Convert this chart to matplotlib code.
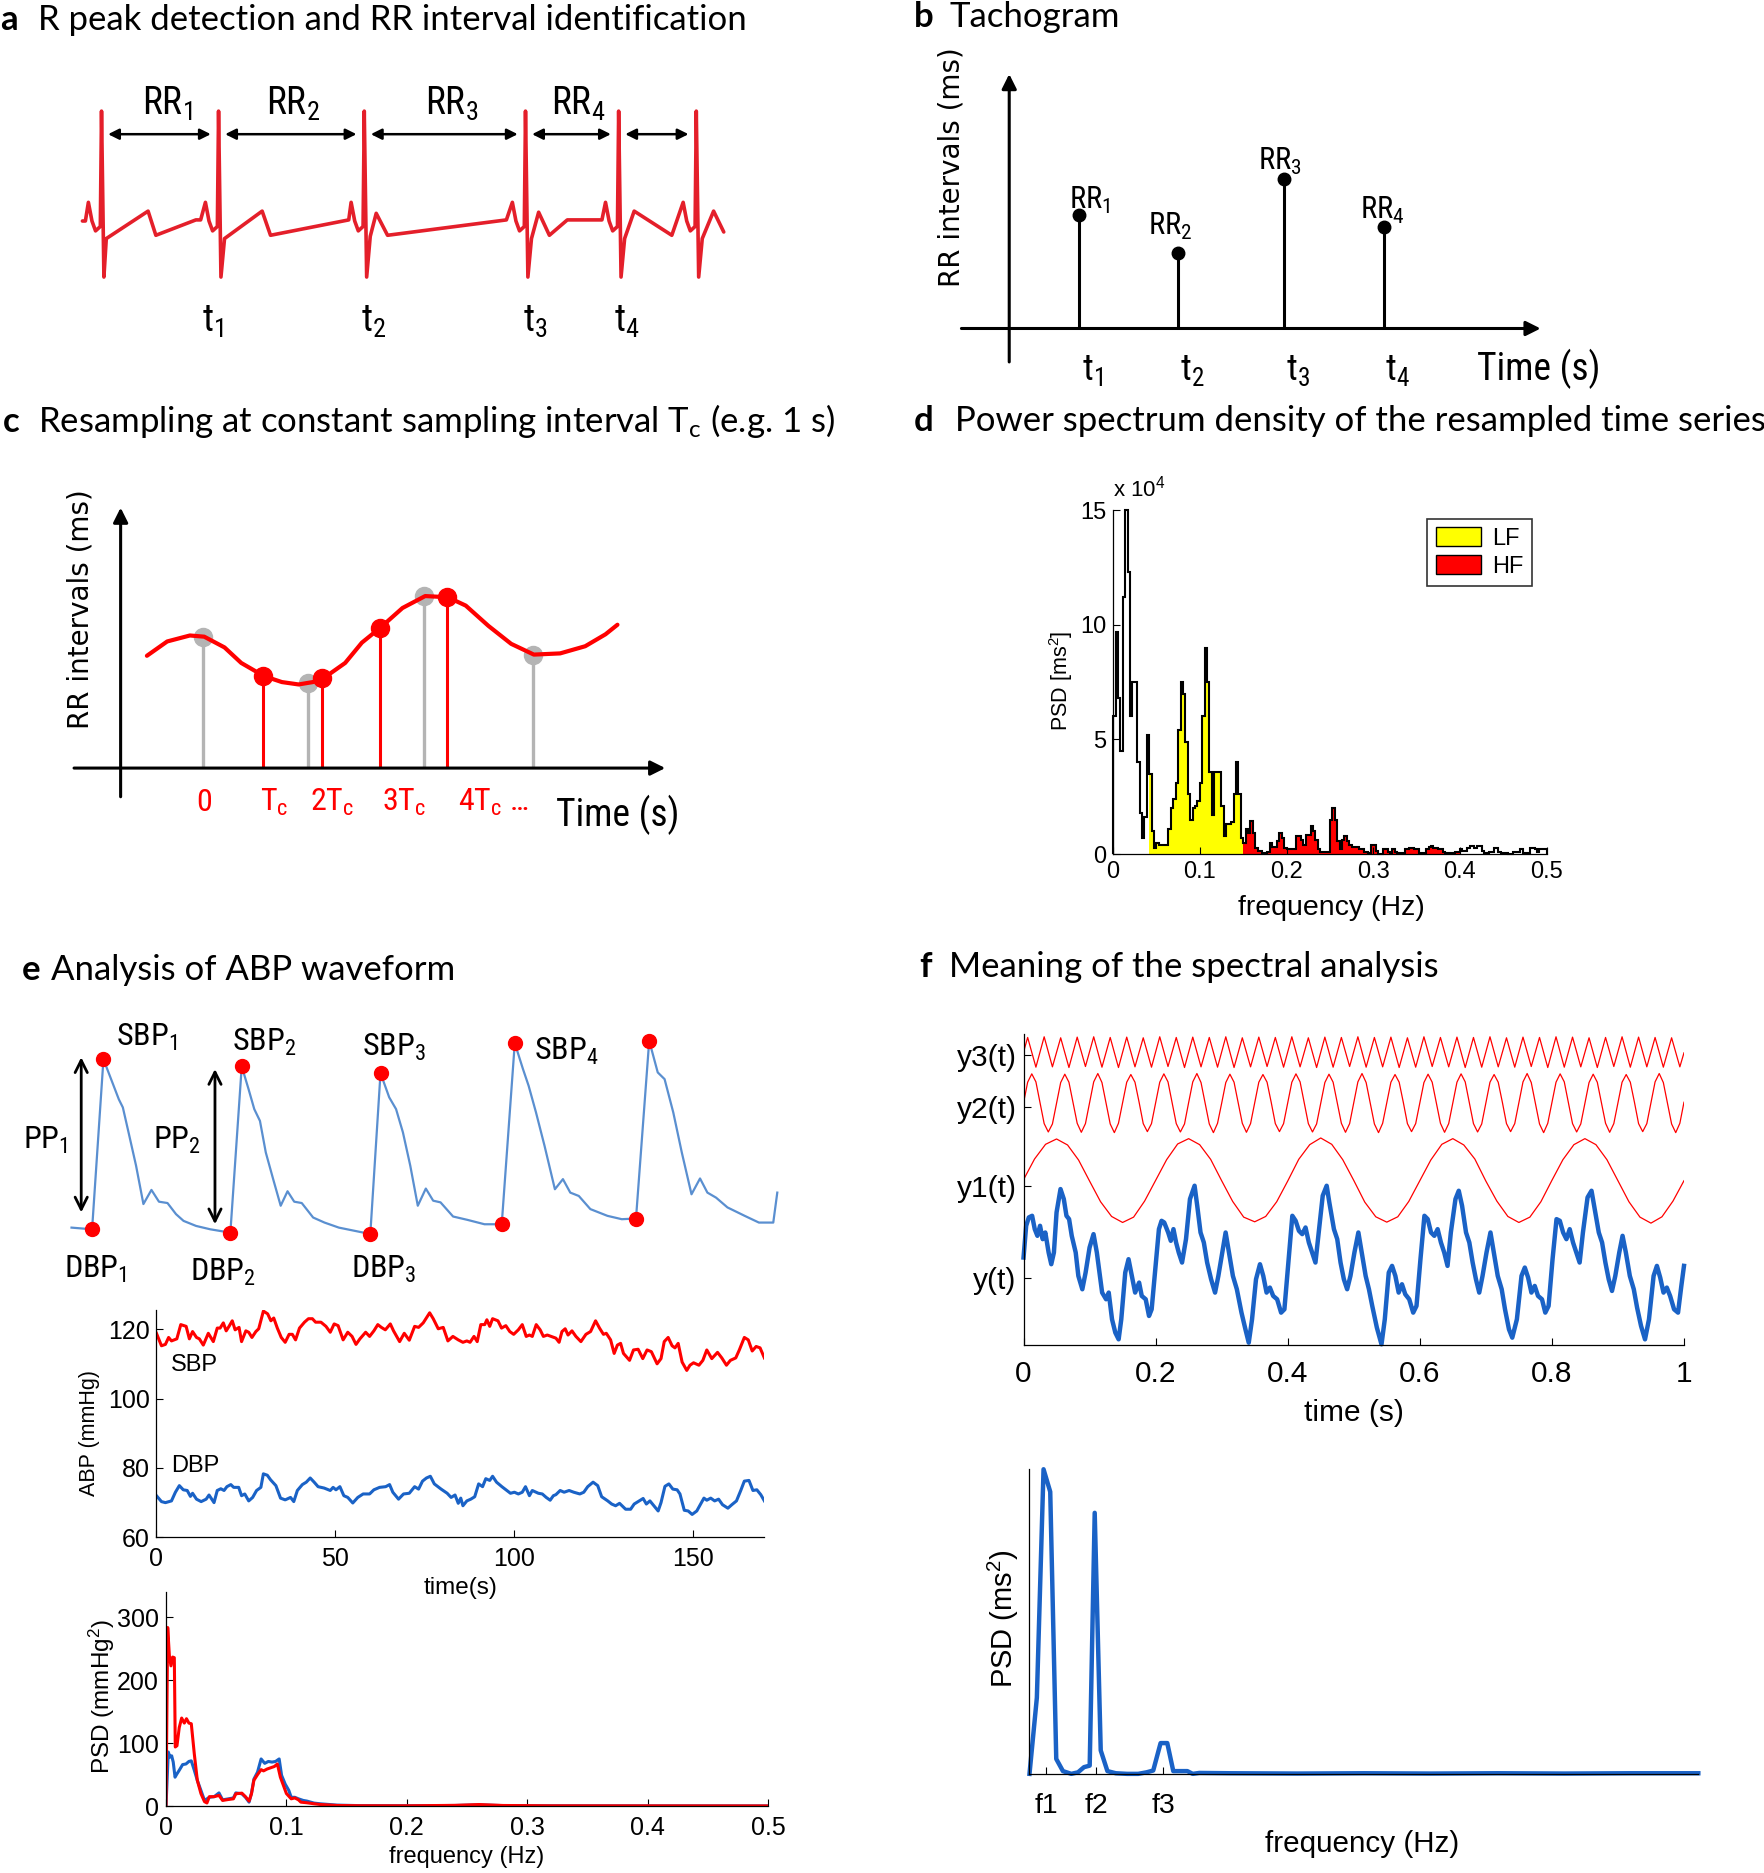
import numpy as np
import matplotlib
matplotlib.use('Agg')
import matplotlib.pyplot as plt
from matplotlib import font_manager as fm
from matplotlib.patches import Patch

# ======================= DATA =======================
# (a) ECG schematic (time s, amplitude mV)
r_peak_times = [0.0, 0.98, 2.20, 3.55, 4.33, 4.98]
ecg_t = [-0.16, -0.135, -0.11, -0.08, -0.05, -0.01, 0.0, 0.02, 0.04, 0.39, 0.455, 0.79, 0.83,
         0.87, 0.90, 0.93, 0.97, 0.98, 1.00, 1.03, 1.345, 1.415, 2.07,
         2.09, 2.12, 2.15, 2.19, 2.20, 2.22, 2.25, 2.30, 2.395, 3.39,
         3.44, 3.47, 3.50, 3.54, 3.55, 3.57, 3.60, 3.66, 3.75, 3.90, 4.19,
         4.22, 4.25, 4.28, 4.32, 4.33, 4.35, 4.38, 4.46, 4.775,
         4.87, 4.90, 4.93, 4.97, 4.98, 5.00, 5.03, 5.125, 5.21]
ecg_mv = [0.0, 0.0, 0.17, 0.0, -0.09, -0.05, 1.0, -0.51, -0.16, 0.09, -0.13, 0.01, 0.01,
          0.17, 0.0, -0.09, -0.05, 1.0, -0.51, -0.16, 0.09, -0.13, 0.01,
          0.17, 0.0, -0.09, -0.05, 1.0, -0.51, -0.14, 0.07, -0.13, 0.01,
          0.17, 0.0, -0.09, -0.05, 1.0, -0.51, -0.16, 0.08, -0.13, 0.01, 0.01,
          0.17, 0.0, -0.09, -0.05, 1.0, -0.51, -0.16, 0.09, -0.13,
          0.17, 0.0, -0.09, -0.05, 1.0, -0.51, -0.16, 0.09, -0.10]
rr_labels = ['RR$_1$', 'RR$_2$', 'RR$_3$', 'RR$_4$']
rr_label_t = [0.55, 1.60, 2.93, 3.99]
t_labels = ['t$_1$', 't$_2$', 't$_3$', 't$_4$']
t_label_a = [0.93, 2.28, 3.63, 4.40]

# (b) Tachogram
tach_t = [0.68, 1.65, 2.68, 3.65]
tach_rr = [760, 505, 1000, 680]
tach_lab_t = [0.78, 1.57, 2.64, 3.64]
tach_lab_rr = [800, 624, 1064, 736]

# (c) Resampling
c_curve_t = [-0.94, -0.60, -0.22, 0.02, 0.36, 0.64, 1.02, 1.32, 1.60, 1.84, 2.04, 2.38, 2.66,
             2.98, 3.34, 3.72, 4.10, 4.40, 4.78, 5.16, 5.54, 5.98, 6.40, 6.74, 6.94]
c_curve_v = [470, 530, 555, 550, 505, 440, 385, 360, 350, 360, 380, 440, 525,
             590, 670, 720, 715, 680, 595, 520, 475, 480, 510, 560, 600]
orig_t = [0.0, 1.76, 3.70, 5.52]
orig_v = [550, 355, 720, 475]
resamp_t = [1.0, 2.0, 2.96, 4.08]
resamp_v = [385, 375, 585, 715]
c_tick_labels = ['0', 'T$_c$', '2T$_c$', '3T$_c$', '4T$_c$ \u2026']
c_tick_t = [0.02, 1.2, 2.16, 3.36, 4.86]

# (d) PSD of resampled RR series (x 10^4 ms^2), 180 bins over 0-0.5 Hz
psd_d = [6.0, 9.7, 6.8, 4.5, 11.2, 15.0, 12.3, 6.0, 7.5, 7.5, 4.0, 1.8, 0.7, 1.6, 5.2,
         3.5, 1.0, 0.25, 0.5, 0.4, 0.4, 0.4, 0.4, 1.1, 2.0, 2.4, 3.1, 5.4, 7.5, 7.0, 4.9, 2.6,
         1.5, 2.0, 2.1, 2.3, 3.1, 6.0, 9.0, 7.5, 3.6, 1.7, 3.6, 3.6, 3.6, 2.1, 0.8, 1.3, 1.3,
         1.4, 2.6, 4.0, 2.6, 0.7,
         0.5, 1.1, 0.9, 1.45, 0.9, 0.26, 0.15, 0.15, 0.05, 0.05, 0.1, 0.5, 0.33, 0.33, 0.55,
         0.9, 0.7, 0.26, 0.2, 0.2, 0.2, 0.2, 0.8, 0.8, 0.6, 0.4, 0.84, 0.84, 1.23, 1.0, 0.6,
         0.2, 0.1, 0.1, 0.1, 0.1, 1.5, 2.0, 1.5, 0.55, 0.2, 0.6, 0.77, 0.55, 0.4, 0.3, 0.3,
         0.3, 0.2, 0.2, 0.1, 0.1, 0.05, 0.4, 0.4, 0.15, 0.0, 0.0, 0.2, 0.2, 0.1, 0.05, 0.2,
         0.1, 0.05, 0.05, 0.05, 0.2, 0.2, 0.26, 0.26, 0.2, 0.2, 0.05, 0.05, 0.05, 0.2, 0.3,
         0.36, 0.26, 0.26, 0.2, 0.2, 0.07, 0.05, 0.05, 0.05, 0.05, 0.1, 0.1,
         0.2, 0.15, 0.15, 0.26, 0.36, 0.36, 0.26, 0.36, 0.36, 0.15, 0.05, 0.05, 0.07, 0.07,
         0.26, 0.26, 0.1, 0.05, 0.05, 0.05, 0.02, 0.02, 0.1, 0.1, 0.1, 0.2, 0.05, 0.05, 0.05,
         0.26, 0.26, 0.2, 0.07, 0.2, 0.2, 0.2]
lf_bins = (15, 54)
hf_bins = (54, 144)

# (e) ABP waveform (s, mmHg)
abp_t = [0.013, 0.136, 0.204, 0.252, 0.296, 0.320, 0.354, 0.399, 0.443, 0.491, 0.536, 0.587,
         0.638, 0.683, 0.758, 0.843, 0.963, 1.031, 1.072, 1.106, 1.140, 1.175, 1.219, 1.264,
         1.305, 1.345, 1.390, 1.458, 1.526, 1.612, 1.800, 1.861, 1.913, 1.954, 1.995, 2.039,
         2.084, 2.132, 2.176, 2.220, 2.295, 2.381, 2.483, 2.586, 2.664, 2.713, 2.747, 2.791,
         2.842, 2.904, 2.952, 2.996, 3.047, 3.116, 3.218, 3.304, 3.389, 3.468, 3.519, 3.560,
         3.612, 3.663, 3.721, 3.772, 3.816, 3.868, 3.936, 4.039, 4.124, 4.210, 4.234]
abp_p = [69.4, 68.9, 119.4, 113.2, 107.5, 105.1, 97.7, 87.8, 76.4, 80.6, 77.1, 76.7,
         73.4, 71.4, 69.9, 68.9, 67.9, 117.3, 110.5, 104.6, 101.1, 91.7, 83.8, 75.9,
         80.2, 77.1, 76.7, 72.4, 70.9, 69.4, 67.5, 115.3, 108.1, 104.6, 97.7, 87.8,
         75.9, 81.0, 77.4, 76.9, 72.7, 71.7, 70.4, 70.4, 124.2, 116.5, 111.5, 103.6,
         93.7, 80.8, 83.8, 79.8, 78.8, 74.9, 72.9, 71.9, 72.1, 124.9, 115.5, 113.5,
         103.6, 91.7, 79.3, 84.0, 79.8, 78.3, 75.4, 72.9, 70.9, 70.9, 79.8]
sbp_pk_t = [0.204, 1.031, 1.861, 2.664, 3.468]
sbp_pk = [119.4, 117.3, 115.3, 124.2, 124.9]
dbp_pk_t = [0.136, 0.963, 1.800, 2.586, 3.389]
dbp_pk = [68.9, 67.9, 67.5, 70.4, 72.1]

# (e) beat-to-beat SBP / DBP series
sbp_t = [0, 1.4, 2.5, 3.4, 4.2, 5.7, 6.8, 8.3, 9.2, 10.1, 11.2, 12.0, 13.1, 14.5, 15.9, 17.0,
         17.8, 18.7, 19.5, 20.3, 21.2, 22.0, 23.1, 23.8, 25.0, 25.8, 26.7, 27.8, 28.6, 29.9,
         31.1, 32.0, 32.8, 33.8, 34.9, 36.0, 37.1, 38.0, 38.9, 40.0, 41.4, 42.5, 43.6, 44.5,
         46.0, 47.4, 48.6, 49.7, 50.8, 52.2, 53.5, 54.7, 55.8, 56.9, 58.5, 59.6, 60.8, 61.9,
         62.9, 64.0, 65.4, 66.3, 68.0, 69.3, 70.7, 72.2, 73.3, 74.6, 76.4, 77.4, 78.8, 80.2,
         81.5, 82.9, 84.4, 85.7, 86.8, 87.7, 88.8, 89.7, 90.7, 91.8, 92.4, 93.2, 94.0, 95.5,
         96.5, 97.7, 98.8, 99.9, 101.2, 102.3, 103.4, 104.3, 105.1, 106.2, 107.3, 108.2,
         109.3, 110.4, 111.7, 112.6, 113.4, 114.3, 115.1, 116.2, 117.3, 118.7, 120.1, 121.4,
         122.8, 123.9, 125.0, 125.8, 127.0, 128.0, 128.9, 129.8, 130.6, 132.3, 133.4, 134.7,
         136.0, 137.2, 138.4, 140.0, 141.1, 142.0, 143.1, 144.2, 145.0, 145.9, 147.0, 148.3,
         149.2, 150.2, 151.7, 152.8, 153.9, 155.3, 156.9, 158.1, 159.4, 160.5, 162.0, 163.0,
         164.4, 165.5, 166.6, 167.7, 168.8, 170.0]
sbp_v = [118.8, 115.2, 115.6, 117.6, 116.6, 117.2, 121.3, 120.8, 117.2, 119.3, 117.6, 117.2,
         115.4, 118.8, 116.4, 120.3, 120.3, 121.8, 119.5, 120.8, 122.4, 119.8, 120.5, 116.4,
         119.5, 119.1, 117.6, 119.3, 120.1, 125.2, 124.4, 122.4, 123.2, 120.3, 117.6, 116.2,
         118.5, 118.5, 116.9, 120.3, 122.0, 123.0, 123.0, 122.0, 122.0, 120.8, 119.1, 121.5,
         121.0, 116.9, 119.1, 117.9, 115.6, 117.2, 119.1, 117.9, 119.5, 121.3, 120.5, 119.8,
         121.5, 119.5, 116.4, 118.8, 116.8, 120.8, 120.5, 121.8, 124.7, 123.0, 120.1, 120.5,
         116.6, 117.9, 116.9, 116.2, 116.6, 116.2, 117.9, 116.4, 121.3, 121.3, 122.7, 120.8,
         123.0, 122.4, 120.3, 121.0, 119.3, 118.5, 119.8, 121.3, 117.9, 118.3, 117.9, 121.3,
         119.8, 117.9, 118.3, 117.9, 117.4, 116.2, 119.3, 120.1, 118.3, 119.5, 117.9, 116.4,
         118.5, 119.3, 122.4, 120.3, 118.5, 118.8, 116.9, 113.0, 115.4, 115.9, 113.0, 111.0,
         114.0, 114.2, 111.5, 114.0, 113.5, 110.0, 111.5, 116.4, 117.6, 115.2, 114.6, 115.9,
         110.5, 108.1, 109.6, 110.3, 109.6, 111.0, 114.0, 111.5, 113.3, 111.7, 109.6, 111.0,
         111.7, 114.0, 117.6, 116.9, 113.7, 115.0, 114.6, 111.7]
dbp_t = [0, 1.4, 2.5, 4.2, 5.3, 6.4, 7.5, 8.6, 9.5, 10.1, 11.2, 12.5, 13.9, 14.7, 16.1, 17.0,
         18.0, 18.9, 19.7, 20.8, 21.6, 23.0, 23.8, 24.7, 25.8, 26.9, 28.0, 29.2, 29.9, 31.0,
         31.9, 33.4, 34.7, 36.0, 37.5, 38.4, 39.4, 40.8, 41.9, 43.0, 44.1, 45.2, 46.9, 48.6,
         49.4, 50.2, 51.3, 52.4, 53.5, 54.9, 56.3, 57.8, 59.6, 60.8, 62.4, 64.1, 65.2, 66.1,
         67.7, 69.1, 70.7, 72.2, 73.3, 74.4, 75.5, 76.6, 77.7, 79.6, 81.3, 82.4, 83.5, 84.4,
         85.1, 85.7, 86.8, 87.9, 89.0, 90.1, 91.2, 92.1, 93.2, 94.0, 95.1, 96.6, 98.0, 99.0,
         100.1, 101.2, 102.3, 103.2, 104.3, 105.1, 106.8, 107.9, 109.0, 110.1, 111.0, 111.7,
         112.9, 114.0, 115.4, 116.7, 118.4, 119.5, 120.6, 122.1, 123.4, 124.5, 126.2, 127.3,
         128.4, 129.5, 131.2, 132.6, 133.6, 135.0, 136.1, 137.0, 138.0, 139.5, 140.3, 141.1,
         142.2, 143.3, 144.4, 145.6, 146.4, 147.6, 148.7, 149.8, 151.1, 152.2, 153.1, 153.9,
         155.0, 156.1, 157.2, 158.3, 159.8, 160.9, 162.2, 163.4, 164.4, 165.7, 166.8, 167.9,
         169.0, 170.0]
dbp_v = [72, 70.3, 70, 70.5, 73, 74.9, 73.7, 73.5, 71.8, 72.7, 71, 70.3, 71, 72.2, 70, 73.5,
         74, 73.5, 74.6, 75.2, 74.4, 74.4, 72, 72.5, 70.5, 71.5, 73.5, 74.4, 78.3, 77.9,
         76.6, 74.9, 71.3, 70.8, 71.5, 70.3, 73.5, 75.2, 75.9, 77.1, 75.9, 74.6, 74.2, 73.5,
         74.4, 73.7, 74.6, 72, 71.5, 69.9, 71.5, 72.5, 72.5, 73.7, 74.4, 74.6, 75.2, 73,
         71, 72.5, 72.7, 74.6, 73.9, 76.2, 77.1, 77.6, 75.4, 73.9, 72.7, 71.5, 72.2, 69.8,
         71.3, 69.1, 70.5, 71, 71.7, 75.4, 74.6, 76.9, 76.4, 77.6, 75.9, 74.6, 73.5, 72.7,
         73, 72.5, 73, 74.6, 72, 73.5, 72.7, 72.5, 71.5, 70.7, 72, 72.3, 73.5, 73,
         73.5, 73, 72.5, 73, 74.6, 75.9, 74.9, 71.7, 70.5, 69.6, 69.1, 69.8, 68.1, 68.1,
         69.6, 70.5, 71.2, 69.6, 70.5, 68.6, 67.6, 70, 74.7, 75.4, 73.9, 73.7, 72.5, 67.8,
         67.6, 66.6, 67.6, 69.6, 71.3, 70.7, 71.3, 70.5, 71, 69.4, 68.4, 69.4, 70.5, 73.5,
         76.2, 76.4, 73.5, 73.7, 72.3, 70.5]

# (e) PSD of SBP (red) and DBP (blue)
psd_sbp_f = [0, 0.0014, 0.0028, 0.0041, 0.0055, 0.0069, 0.0077, 0.0091, 0.011, 0.013, 0.0152,
             0.017, 0.019, 0.021, 0.0235, 0.026, 0.029, 0.032, 0.034, 0.036, 0.040, 0.044,
             0.047, 0.052, 0.056, 0.058, 0.063, 0.066, 0.069, 0.071, 0.073, 0.076, 0.079,
             0.081, 0.084, 0.087, 0.090, 0.0925, 0.095, 0.0975, 0.100, 0.104, 0.107, 0.110,
             0.112, 0.117, 0.123, 0.128, 0.142, 0.16, 0.2, 0.24, 0.26, 0.28, 0.32, 0.4, 0.5]
psd_sbp = [0, 284, 239, 223, 237, 236, 94, 96, 125, 140, 132, 139, 132, 131, 83, 41, 20, 7, 5,
           15, 15, 17, 9, 10.6, 11.6, 19.6, 20.6, 15, 8, 19.6, 41, 50, 58, 56, 59, 61, 63, 67,
           46, 33, 20, 11.6, 13, 10, 6.3, 5.3, 3.7, 2.6, 1.0, 0.6, 0.5, 1.2, 2.5, 1.0, 0.5,
           0.4, 0.3]
psd_dbp_f = [0, 0.0019, 0.0033, 0.0047, 0.006, 0.0075, 0.009, 0.011, 0.0138, 0.0166, 0.019,
             0.021, 0.0235, 0.026, 0.029, 0.032, 0.036, 0.040, 0.044, 0.047, 0.052, 0.056,
             0.058, 0.063, 0.066, 0.069, 0.071, 0.073, 0.076, 0.079, 0.082, 0.085, 0.088,
             0.091, 0.094, 0.096, 0.099, 0.102, 0.104, 0.107, 0.110, 0.114, 0.117, 0.123,
             0.128, 0.142, 0.16, 0.2, 0.24, 0.26, 0.28, 0.32, 0.4, 0.5]
psd_dbp = [0, 86, 78, 80, 70, 46, 51, 57, 66, 67, 71, 72, 57, 41, 25, 9, 14, 15, 21, 10, 11.6,
           13, 21, 19.6, 14, 6.3, 20.6, 43, 54, 75, 68, 71, 70, 71, 75, 49, 35, 25, 14, 14,
           11.6, 9, 8, 4.8, 3.7, 1.6, 0.8, 0.6, 1.0, 2.0, 0.8, 0.5, 0.4, 0.3]

# (f) component signals (arbitrary vertical units)
y1_vals = [4.90, 5.52, 5.96, 6.12, 5.94, 5.49, 4.86, 4.24, 3.80, 3.62, 3.78, 4.26,
           4.88, 5.50, 5.97, 6.13, 5.95, 5.51, 4.87, 4.25, 3.78, 3.64, 3.80, 4.24,
           4.86, 5.51, 5.95, 6.15, 5.96, 5.50, 4.88, 4.23, 3.79, 3.63, 3.79, 4.25,
           4.87, 5.49, 5.96, 6.13, 5.94, 5.52, 4.86, 4.26, 3.80, 3.62, 3.78, 4.24,
           4.88, 5.50, 5.95, 6.13, 5.95, 5.50, 4.87, 4.24, 3.78, 3.60, 3.79, 4.26, 4.87]
y2_vals = [7.20, 7.82, 8.07, 7.83, 7.21, 6.58, 6.33, 6.57,
           7.19, 7.81, 8.06, 7.82, 7.20, 6.59, 6.32, 6.58,
           7.21, 7.83, 8.08, 7.81, 7.19, 6.57, 6.31, 6.59,
           7.20, 7.82, 8.05, 7.82, 7.22, 6.58, 6.34, 6.58,
           7.20, 7.82, 8.07, 7.83, 7.21, 6.58, 6.33, 6.57,
           7.21, 7.83, 8.08, 7.81, 7.19, 6.57, 6.31, 6.59,
           7.19, 7.81, 8.06, 7.82, 7.20, 6.59, 6.32, 6.58,
           7.20, 7.82, 8.05, 7.82, 7.22, 6.58, 6.34, 6.58,
           7.20, 7.82, 8.07, 7.83, 7.21, 6.58, 6.33, 6.57,
           7.19, 7.81, 8.06, 7.82, 7.20, 6.59, 6.32, 6.58,
           7.21, 7.83, 8.08, 7.81, 7.19, 6.57, 6.31, 6.59,
           7.20, 7.82, 8.05, 7.82, 7.22, 6.58, 6.34, 6.58,
           7.19, 7.81, 8.06, 7.82, 7.20, 6.59, 6.32, 6.58,
           7.20, 7.82, 8.07, 7.83, 7.21, 6.58, 6.33, 6.57,
           7.20, 7.82, 8.05, 7.82, 7.22, 6.58, 6.34, 6.58,
           7.21, 7.83, 8.08, 7.81, 7.19, 6.57, 6.31, 6.59,
           7.20, 7.82, 8.07, 7.83, 7.21, 6.58, 6.33, 6.57,
           7.19, 7.81, 8.06, 7.82, 7.20, 6.59, 6.32, 6.58,
           7.20, 7.82, 8.05, 7.82, 7.22, 6.58, 6.34, 6.58,
           7.21, 7.83, 8.08, 7.81, 7.19, 6.57, 6.31, 6.59,
           7.22]
y3_vals = [8.72,
           9.16, 8.27, 9.18, 8.28, 9.15, 8.26, 9.17, 8.29, 9.18, 8.27, 9.16, 8.26, 9.17, 8.28,
           9.15, 8.27, 9.18, 8.29, 9.16, 8.26, 9.17, 8.28, 9.16, 8.27, 9.18, 8.26, 9.15, 8.28,
           9.17, 8.29, 9.16, 8.27, 9.18, 8.28, 9.15, 8.26, 9.17, 8.27, 9.16, 8.29, 9.18, 8.27,
           9.16, 8.28, 9.17, 8.26, 9.15, 8.27, 9.18, 8.29, 9.16, 8.28, 9.17, 8.26, 9.16, 8.27,
           9.18, 8.28, 9.15, 8.27, 9.17, 8.29, 9.16, 8.26, 9.18, 8.27, 9.17, 8.28, 9.15, 8.26,
           9.16, 8.29, 9.18, 8.27, 9.17, 8.28, 9.16, 8.27, 9.15, 8.28,
           8.70]
y_t = [0.000, .004, .008, .013, .017, .021, .025, .029, .033, .038, .042, .046, .050, .056, .061,
       .065, .069, .073, .079, .083, .089, .094, .100, .106, .111, .115, .119, .125, .129, .134,
       .139, .144, .148, .154, .159, .164, .169, .175, .179, .185, .190, .194, .200, .205,
       .209, .213, .219, .223, .227, .231, .235, .240, .246, .252, .259, .263, .268, .273, .278,
       .284, .290, .295, .301, .306, .311, .317, .323, .330, .336, .341, .346, .352, .358, .363,
       .368, .373, .378, .384, .390, .395, .401,
       .407, .412, .417, .422, .427, .432, .437, .442, .447, .453, .459, .463, .470, .475, .480,
       .485, .490, .495, .501, .507, .512, .518, .523, .528, .535, .542, .547, .553, .558, .563,
       .568, .573, .578, .584, .590, .595, .601,
       .607, .612, .617, .622, .627, .632, .637, .642, .647, .654, .659, .664, .670, .675, .680,
       .685, .690, .695, .701, .707, .712, .718, .724, .729, .735, .740, .747, .754, .759, .764,
       .769, .774, .779, .785, .790, .795, .801,
       .807, .812, .817, .822, .827, .832, .837, .842, .847, .854, .860, .864, .871, .876, .881,
       .886, .891, .896, .902, .907, .912, .918, .924, .929, .935, .941, .947, .954, .959, .964,
       .969, .974, .979, .985, .991, .996, 1.0]
y_v = [2.57, 3.52, 3.77, 3.82, 3.42, 3.22, 3.52, 3.12, 3.32, 2.72, 2.37, 2.72, 3.92, 4.62, 4.32,
       3.82, 3.72, 3.22, 2.72, 2.02, 1.62, 2.12, 2.87, 3.27, 2.72, 2.12, 1.52, 1.32, 1.52, 0.72,
       0.32, 0.12, 0.72, 2.12, 2.52, 2.02, 1.52, 1.82, 1.42, 1.32, 0.82, 1.02, 2.32, 3.42,
       3.67, 3.62, 3.32, 3.07, 3.42, 3.02, 2.72, 2.42, 3.12, 4.32, 4.72, 4.12, 3.32, 3.02, 2.42,
       1.92, 1.52, 2.02, 2.72, 3.32, 2.72, 2.02, 1.62, 0.92, 0.42, 0.02, 0.72, 1.92, 2.37, 2.02,
       1.52, 1.67, 1.42, 1.32, 0.92, 1.02, 2.42,
       3.82, 3.67, 3.37, 3.27, 3.47, 3.02, 2.72, 2.42, 3.32, 4.42, 4.72, 4.22, 3.42, 3.12, 2.42,
       1.92, 1.62, 2.02, 2.72, 3.32, 2.72, 2.02, 1.62, 1.12, 0.47, -0.03, 0.72, 2.12, 2.32, 2.02,
       1.52, 1.77, 1.47, 1.32, 0.92, 1.12, 2.52,
       3.82, 3.72, 3.32, 3.22, 3.42, 3.02, 2.72, 2.32, 3.32, 4.32, 4.57, 4.12, 3.32, 3.02, 2.42,
       1.92, 1.52, 2.02, 2.72, 3.32, 2.72, 2.02, 1.62, 1.02, 0.42, 0.17, 0.72, 2.02, 2.27, 1.97,
       1.52, 1.72, 1.42, 1.32, 0.92, 1.12, 2.52,
       3.72, 3.67, 3.32, 3.12, 3.42, 3.02, 2.72, 2.42, 3.32, 4.37, 4.57, 4.12, 3.32, 3.02, 2.42,
       1.92, 1.57, 2.02, 2.72, 3.22, 2.72, 2.02, 1.62, 1.07, 0.52, 0.12, 0.72, 2.02, 2.32, 1.97,
       1.52, 1.67, 1.42, 1.02, 0.92, 1.72, 2.32]
f_ytick_pos = [1.97, 4.72, 7.07, 8.62]
f_ytick_lab = ['y(t)', 'y1(t)', 'y2(t)', 'y3(t)']

# (f) PSD of y(t)
fpsd_f = [0, 2.2, 4.2, 6.2, 8, 10, 12.5, 14.5, 16.3, 18, 19.5, 21.3, 23.3, 25.8, 29.2, 32.5, 35,
          37, 39.2, 41.2, 43, 45, 47.2, 48.8, 50.8, 60, 80, 100, 120, 140, 160, 180, 200]
fpsd_v = [0, 0.25, 1.0, 0.926, 0.049, 0.009, 0.0, 0.005, 0.022, 0.027, 0.857, 0.077, 0.009,
          0.002, 0.0, 0.0, 0.005, 0.011, 0.101, 0.101, 0.009, 0.009, 0.009, 0.0, 0.003, 0.002,
          0.001, 0.002, 0.001, 0.002, 0.001, 0.002, 0.002]
f_peaks = [5, 20, 40]
f_peak_labels = ['f1', 'f2', 'f3']

# ======================= STYLE =======================
names = {f.name for f in fm.fontManager.ttflist}
def pick(*c):
    for n in c:
        if n in names:
            return n
    return 'DejaVu Sans'
NARROW = pick('Liberation Sans Narrow', 'Roboto Condensed', 'Liberation Sans')
HELV = pick('Liberation Sans', 'Arial', 'DejaVu Sans')
TITLE = pick('Lato', 'Open Sans', 'DejaVu Sans')
WIDE = 'DejaVu Sans'
plt.rcParams['font.family'] = [HELV, 'DejaVu Sans']
plt.rcParams['mathtext.default'] = 'regular'

RED_A = '#e41f2a'
RED = '#ff0000'
BLUE = '#1a62c6'
BLUE_W = '#5a8fd0'
GRAY = '#b4b4b4'

W, H = 1477.0, 1568.0
fig = plt.figure(figsize=(17.64, 18.73), dpi=100)

def R(x0, y0, x1, y1):
    return [x0 / W, 1 - y1 / H, (x1 - x0) / W, (y1 - y0) / H]

def new_ax(x0, y0, x1, y1):
    a = fig.add_axes(R(x0, y0, x1, y1))
    a.patch.set_alpha(0)
    return a

def ftext(x, y, s, **kw):
    fig.text(x / W, 1 - y / H, s, **kw)

def title(lx, tx, y, letter, text):
    ftext(lx, y, letter, fontsize=25, family=TITLE, fontweight='bold', va='baseline', ha='left')
    ftext(tx, y, text, fontsize=25, family=TITLE, va='baseline', ha='left')

def matlab(ax, fs):
    for s in ['top', 'right']:
        ax.spines[s].set_visible(False)
    for s in ['left', 'bottom']:
        ax.spines[s].set_linewidth(0.9)
    ax.tick_params(direction='in', length=5, width=0.8, labelsize=fs, pad=5)

title(0, 32, 25, 'a', 'R peak detection and RR interval identification')
title(765, 795, 23, 'b', 'Tachogram')
title(2, 32, 362, 'c', 'Resampling at constant sampling interval T$_c$ (e.g. 1 s)')
title(765, 800, 361, 'd', 'Power spectrum density of the resampled time series')
title(18, 43, 820, 'e', 'Analysis of ABP waveform')
title(770, 795, 818, 'f', 'Meaning of the spectral analysis')

# ---------------- (a) ----------------
ax = new_ax(60, 60, 620, 300)
ax.set_axis_off()
ax.set_xlim(-0.25, 5.35)
ax.set_ylim(-1.25, 1.359)
ax.plot(ecg_t, ecg_mv, color=RED_A, lw=2.6, solid_joinstyle='round', solid_capstyle='round')
for i in range(len(r_peak_times) - 1):
    ax.annotate('', xy=(r_peak_times[i + 1] - 0.065, 0.79), xytext=(r_peak_times[i] + 0.055, 0.79),
                arrowprops=dict(arrowstyle='<|-|>', color='k', lw=1.8, mutation_scale=16,
                                shrinkA=0, shrinkB=0))
for lab, x in zip(rr_labels, rr_label_t):
    ax.text(x, 0.967, lab, ha='center', va='baseline', fontsize=27, family=NARROW)
for lab, x in zip(t_labels, t_label_a):
    ax.text(x, -1.01, lab, ha='center', va='baseline', fontsize=27, family=NARROW)

# ---------------- (b) ----------------
ax = new_ax(805, 55, 1295, 303)
ax.set_axis_off()
ax.set_xlim(-0.466, 5.239)
ax.set_ylim(-224, 1760)
ap = dict(arrowstyle='-|>', color='k', lw=2.2, mutation_scale=22, shrinkA=0, shrinkB=0)
ax.annotate('', xy=(5.18, 0), xytext=(-0.466, 0), arrowprops=ap)
ax.annotate('', xy=(0, 1704), xytext=(0, -224), arrowprops=ap)
ax.vlines(tach_t, 0, tach_rr, color='k', lw=2.2)
ax.plot(tach_t, tach_rr, 'o', color='k', ms=9)
for i, (x, y) in enumerate(zip(tach_lab_t, tach_lab_rr)):
    ax.text(x, y, rr_labels[i], ha='center', va='baseline', fontsize=22, family=NARROW)
for i, x in enumerate(tach_t):
    ax.text(x + 0.13, -344, t_labels[i], ha='center', va='baseline', fontsize=26, family=NARROW)
ax.text(5.16, -344, 'Time (s)', ha='center', va='baseline', fontsize=27, family=NARROW)
ftext(797, 140, 'RR intervals (ms)', rotation=90, ha='center', va='center', fontsize=20, family=WIDE)

# ---------------- (c) ----------------
ax = new_ax(55, 415, 565, 670)
ax.set_axis_off()
ax.set_xlim(-2.3, 7.9)
ax.set_ylim(-135, 1140)
ax.annotate('', xy=(7.74, 0), xytext=(-2.16, 0), arrowprops=ap)
ax.annotate('', xy=(-1.38, 1090), xytext=(-1.38, -120), arrowprops=ap)
ax.vlines(orig_t, 0, orig_v, color=GRAY, lw=2.4, zorder=2)
ax.vlines(resamp_t, 0, resamp_v, color=RED, lw=2.2, zorder=2)
ax.plot(orig_t, orig_v, 'o', color=GRAY, ms=13, zorder=3)
ax.plot(c_curve_t, c_curve_v, color=RED, lw=3, zorder=4, solid_capstyle='round')
ax.plot(resamp_t, resamp_v, 'o', color=RED, ms=13, zorder=5)
for lab, x in zip(c_tick_labels, c_tick_t):
    ax.text(x, -145, lab, color=RED, ha='center', va='center', fontsize=23, family=NARROW)
ax.text(6.94, -195, 'Time (s)', ha='center', va='center', fontsize=27, family=NARROW)
ftext(67, 510, 'RR intervals (ms)', rotation=90, ha='center', va='center', fontsize=20, family=WIDE)

# ---------------- (d) ----------------
ax = new_ax(932, 427, 1295, 715)
matlab(ax, 17)
edges = np.linspace(0, 0.5, len(psd_d) + 1)
vals = np.array(psd_d)
a0, a1 = lf_bins
ax.stairs(vals[a0:a1], edges[a0:a1 + 1], fill=True, color='#ffff00', lw=0, zorder=1)
b0, b1 = hf_bins
ax.stairs(vals[b0:b1], edges[b0:b1 + 1], fill=True, color='#ff0000', lw=0, zorder=1)
ax.stairs(vals, edges, color='k', lw=1.5, baseline=0, zorder=3, clip_on=False)
ax.set_xlim(0, 0.5)
ax.set_ylim(0, 15)
ax.set_xticks([0, 0.1, 0.2, 0.3, 0.4, 0.5], ['0', '0.1', '0.2', '0.3', '0.4', '0.5'])
ax.set_yticks([0, 5, 10, 15], ['0', '5', '10', '15'])
ax.text(0.0, 1.025, 'x 10$^4$', transform=ax.transAxes, ha='left', va='bottom', fontsize=16)
ax.text(-0.121, 0.503, 'PSD [ms$^2$]', transform=ax.transAxes, rotation=90, ha='center',
        va='center', fontsize=15.5)
ax.text(0.504, -0.156, 'frequency (Hz)', transform=ax.transAxes, ha='center', va='center',
        fontsize=20.5)
leg = ax.legend(handles=[Patch(facecolor='#ffff00', edgecolor='k', label='LF'),
                         Patch(facecolor='#ff0000', edgecolor='k', label='HF')],
                loc='upper left', bbox_to_anchor=(0.725, 0.975), fontsize=17, frameon=True,
                fancybox=False, handlelength=1.9, handleheight=0.85, borderpad=0.35,
                labelspacing=0.25, handletextpad=0.5, borderaxespad=0)
leg.get_frame().set_edgecolor('k')
leg.get_frame().set_linewidth(1.2)

# ---------------- (e) waveform ----------------
ax = new_ax(40, 840, 670, 1090)
ax.set_axis_off()
ax.set_xlim(-0.129, 4.371)
ax.set_ylim(47.3, 136.0)
ax.plot(abp_t, abp_p, color=BLUE_W, lw=1.6)
ax.plot(sbp_pk_t, sbp_pk, 'o', color=RED, ms=10, zorder=4)
ax.plot(dbp_pk_t, dbp_pk, 'o', color=RED, ms=10, zorder=4)
sbp_lab_pos = [(0.464, 126.0), (1.164, 124.3), (1.943, 122.8), (2.971, 121.8)]
dbp_lab_pos = [(0.157, 56.9), (0.921, 56.2), (1.879, 56.9)]
for i, (x, y) in enumerate(sbp_lab_pos):
    ax.text(x, y, 'SBP$_%d$' % (i + 1), ha='center', va='center', fontsize=23, family=NARROW)
for i, (x, y) in enumerate(dbp_lab_pos):
    ax.text(x, y, 'DBP$_%d$' % (i + 1), ha='center', va='center', fontsize=23, family=NARROW)
ap2 = dict(arrowstyle='<->', color='k', lw=2.0, mutation_scale=22, shrinkA=0, shrinkB=0)
ax.annotate('', xy=(0.071, 120.0), xytext=(0.071, 73.9), arrowprops=ap2)
ax.annotate('', xy=(0.871, 116.5), xytext=(0.871, 70.4), arrowprops=ap2)
ax.text(-0.143, 95.2, 'PP$_1$', ha='center', va='center', fontsize=23, family=NARROW)
ax.text(0.643, 95.2, 'PP$_2$', ha='center', va='center', fontsize=23, family=NARROW)

# ---------------- (e) SBP/DBP series ----------------
ax = new_ax(131, 1097, 640, 1287)
matlab(ax, 18)
ax.plot(sbp_t, sbp_v, color=RED, lw=2.2)
ax.plot(dbp_t, dbp_v, color=BLUE, lw=2.2)
ax.set_xlim(0, 170)
ax.set_ylim(60, 125.4)
ax.set_xticks([0, 50, 100, 150])
ax.set_yticks([60, 80, 100, 120])
ax.tick_params(axis='x', pad=7)
ax.text(4.0, 107.8, 'SBP', ha='left', va='baseline', fontsize=17)
ax.text(4.0, 78.8, 'DBP', ha='left', va='baseline', fontsize=17)
ax.text(0.5, -0.225, 'time(s)', transform=ax.transAxes, ha='center', va='center', fontsize=17.5)
ftext(75, 1200, 'ABP (mmHg)', rotation=90, ha='center', va='center', fontsize=15.5)

# ---------------- (e) PSD ----------------
ax = new_ax(139, 1333, 643, 1512)
matlab(ax, 18)
ax.plot(psd_dbp_f, psd_dbp, color=BLUE, lw=2.2)
ax.plot(psd_sbp_f, psd_sbp, color=RED, lw=2.2)
ax.set_xlim(0, 0.5)
ax.set_ylim(0, 340)
ax.set_xticks([0, 0.1, 0.2, 0.3, 0.4, 0.5], ['0', '0.1', '0.2', '0.3', '0.4', '0.5'])
ax.set_yticks([0, 100, 200, 300])
ax.tick_params(axis='x', pad=7)
ax.text(0.5, -0.24, 'frequency (Hz)', transform=ax.transAxes, ha='center', va='center', fontsize=17)
ftext(85, 1420, 'PSD (mmHg$^2$)', rotation=90, ha='center', va='center', fontsize=17.5)

# ---------------- (f) time signals ----------------
ax = new_ax(857, 866, 1410, 1126)
matlab(ax, 21.5)
ax.plot(np.linspace(0, 1, len(y1_vals)), y1_vals, color=RED, lw=0.9)
ax.plot(np.linspace(0, 1, len(y2_vals)), y2_vals, color=RED, lw=0.9)
t3 = np.concatenate([[0.0], 0.00625 + 0.0125 * np.arange(len(y3_vals) - 2), [1.0]])
ax.plot(t3, y3_vals, color=RED, lw=0.9)
ax.plot(y_t, y_v, color=BLUE, lw=3.2, clip_on=False)
ax.set_xlim(0, 1)
ax.set_ylim(-0.05, 9.25)
ax.set_xticks([0, 0.2, 0.4, 0.6, 0.8, 1.0], ['0', '0.2', '0.4', '0.6', '0.8', '1'])
ax.set_yticks(f_ytick_pos, f_ytick_lab)
ax.tick_params(axis='x', pad=11)
ax.text(0.5, -0.22, 'time (s)', transform=ax.transAxes, ha='center', va='center', fontsize=21.5)

# ---------------- (f) PSD ----------------
ax = new_ax(862, 1230, 1422, 1485)
matlab(ax, 20.5)
ax.plot(fpsd_f, fpsd_v, color=BLUE, lw=3.2, clip_on=False)
ax.set_xlim(0, 200)
ax.set_ylim(0, 1)
ax.set_xticks(f_peaks, f_peak_labels)
ax.set_yticks([])
ax.tick_params(axis='x', pad=14)
ax.text(0.497, -0.23, 'frequency (Hz)', transform=ax.transAxes, ha='center', va='center',
        fontsize=21.3)
ftext(840, 1355, 'PSD (ms$^2$)', rotation=90, ha='center', va='center', fontsize=21)

fig.savefig('out.png', dpi=100)
